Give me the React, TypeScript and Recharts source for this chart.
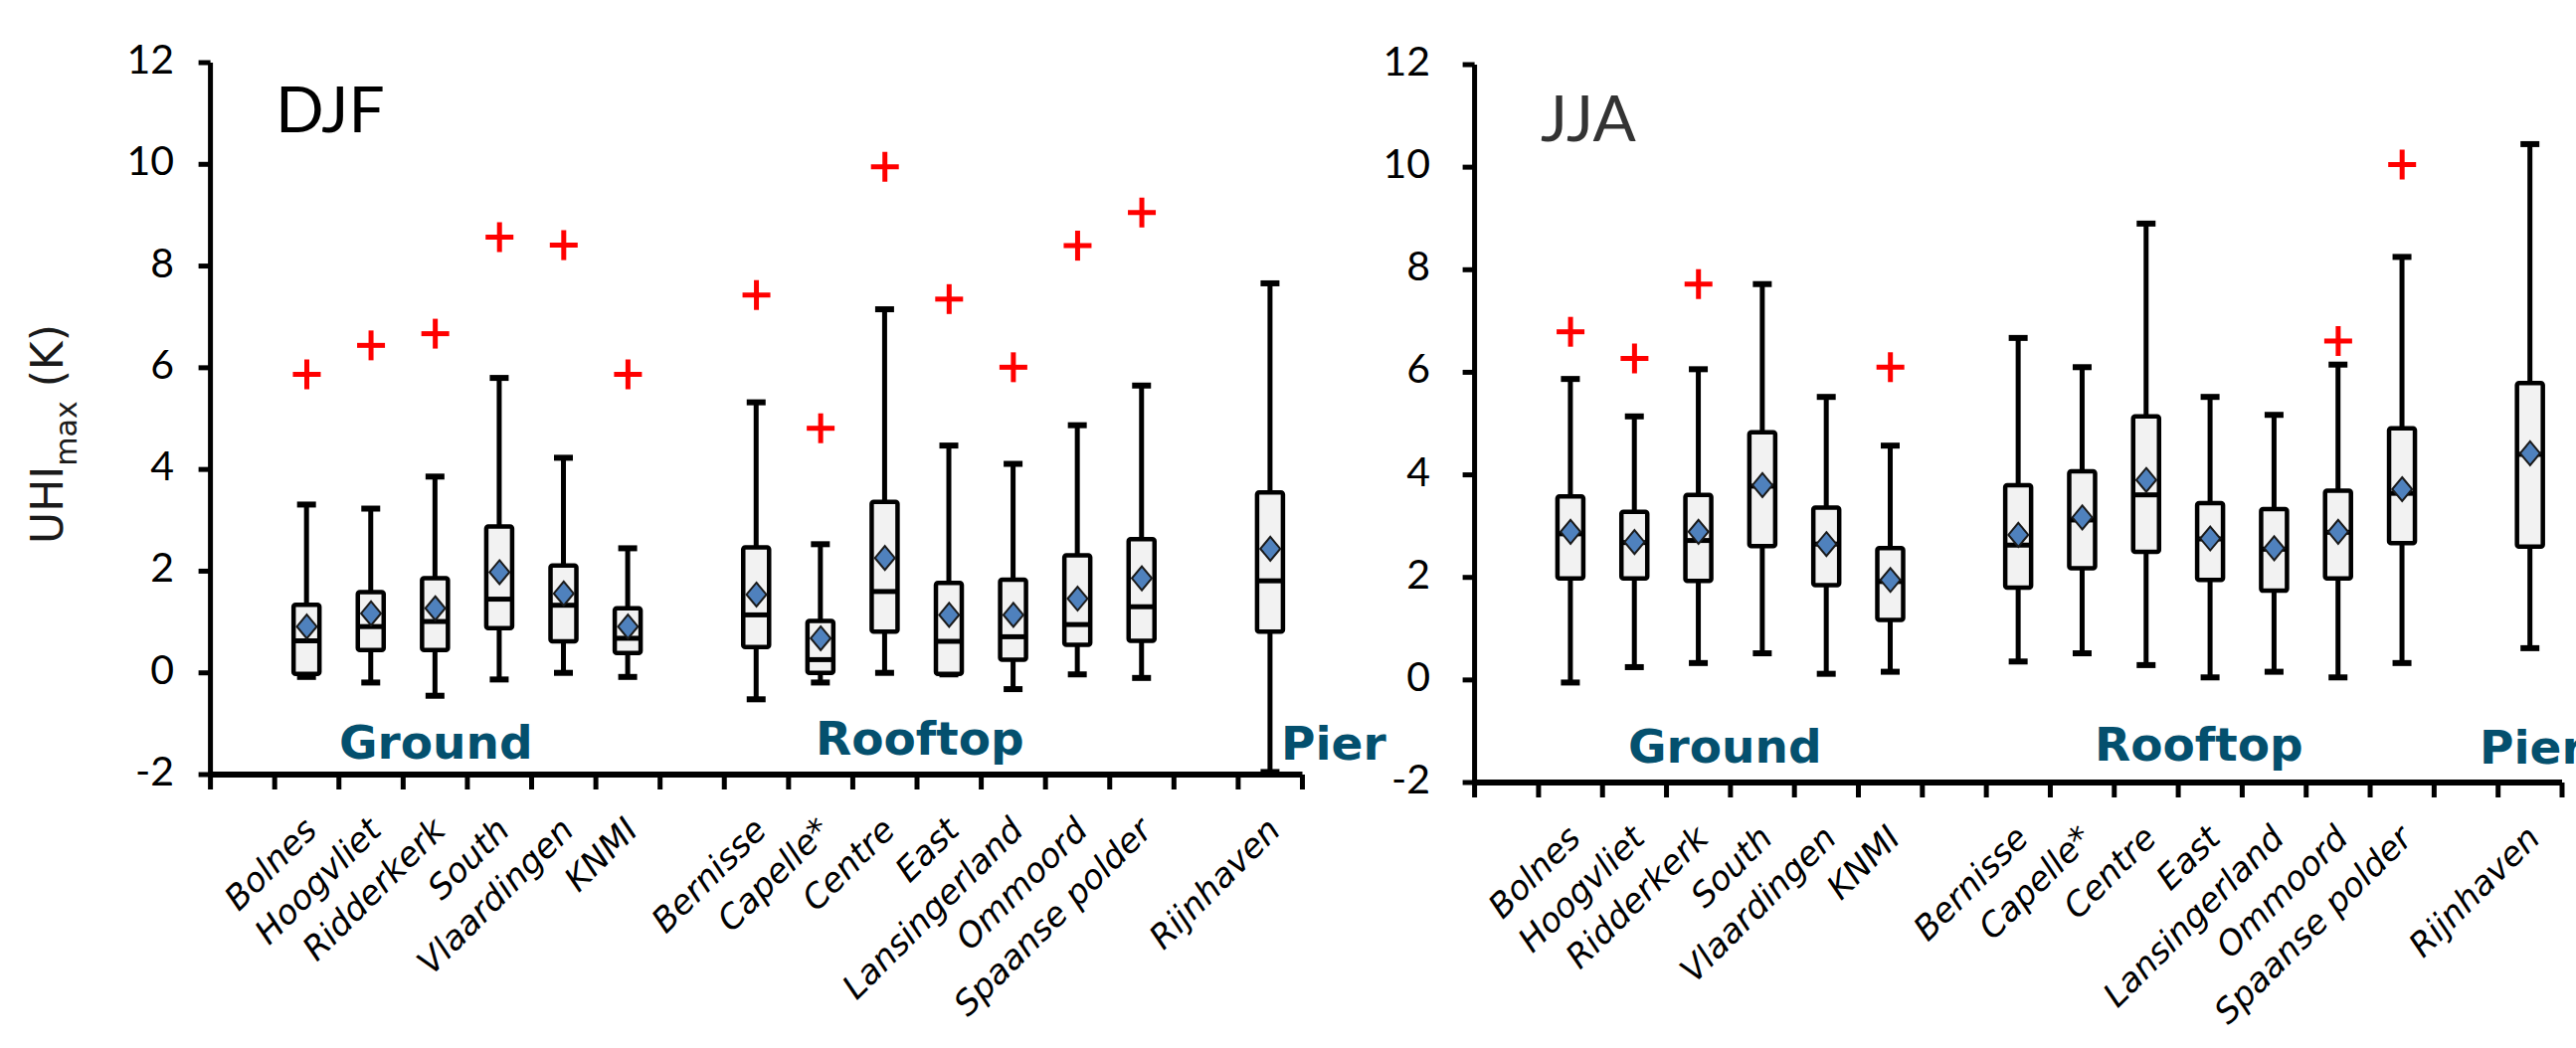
import React from 'react';
import { ComposedChart, Bar, Scatter, XAxis, YAxis } from 'recharts';

// station slots along the x axis, blank slots are the gaps between groups
const categories = [' ', 'Bolnes', 'Hoogvliet', 'Ridderkerk', 'South', 'Vlaardingen', 'KNMI', '  ', 'Bernisse', 'Capelle*', 'Centre', 'East', 'Lansingerland', 'Ommoord', 'Spaanse polder', '   ', 'Rijnhaven'];

const yTicks = [-2, 0, 2, 4, 6, 8, 10, 12];

// DJF (winter)
const djfMin = [null, -0.08, -0.19, -0.45, -0.13, 0.0, -0.08, null, -0.52, -0.19, 0.0, -0.03, -0.32, -0.03, -0.1, null, -1.95];
const djfQ1 = [null, -0.02, 0.45, 0.45, 0.88, 0.62, 0.39, null, 0.51, 0.0, 0.81, -0.02, 0.26, 0.55, 0.63, null, 0.81];
const djfMedian = [null, 0.63, 0.91, 1.01, 1.45, 1.33, 0.68, null, 1.14, 0.26, 1.6, 0.62, 0.71, 0.95, 1.3, null, 1.81];
const djfQ3 = [null, 1.34, 1.59, 1.86, 2.88, 2.11, 1.27, null, 2.47, 1.02, 3.36, 1.77, 1.83, 2.31, 2.63, null, 3.55];
const djfMax = [null, 3.31, 3.23, 3.86, 5.8, 4.23, 2.45, null, 5.32, 2.53, 7.15, 4.47, 4.11, 4.87, 5.65, null, 7.66];
const djfMean = [null, 0.91, 1.17, 1.27, 1.98, 1.56, 0.91, null, 1.54, 0.68, 2.26, 1.14, 1.14, 1.46, 1.86, null, 2.44];
const djfOutlier = [null, 5.87, 6.44, 6.67, 8.57, 8.41, 5.87, null, 7.43, 4.81, 9.95, 7.35, 6.01, 8.4, 9.05, null, null];

// JJA (summer)
const jjaMin = [null, -0.05, 0.25, 0.33, 0.52, 0.12, 0.16, null, 0.36, 0.52, 0.29, 0.05, 0.16, 0.05, 0.33, null, 0.62];
const jjaQ1 = [null, 1.98, 1.98, 1.93, 2.61, 1.85, 1.17, null, 1.8, 2.18, 2.5, 1.95, 1.74, 1.98, 2.67, null, 2.6];
const jjaMedian = [null, 2.85, 2.68, 2.72, 3.78, 2.65, 1.92, null, 2.63, 3.12, 3.61, 2.75, 2.55, 2.88, 3.64, null, 4.4];
const jjaQ3 = [null, 3.58, 3.28, 3.61, 4.83, 3.36, 2.57, null, 3.8, 4.07, 5.14, 3.45, 3.33, 3.69, 4.91, null, 5.79];
const jjaMax = [null, 5.87, 5.14, 6.06, 7.72, 5.52, 4.57, null, 6.67, 6.1, 8.9, 5.52, 5.17, 6.15, 8.25, null, 10.45];
const jjaMean = [null, 2.89, 2.69, 2.89, 3.8, 2.65, 1.95, null, 2.83, 3.17, 3.9, 2.76, 2.57, 2.89, 3.72, null, 4.42];
const jjaOutlier = [null, 6.79, 6.27, 7.72, null, null, 6.1, null, null, null, null, null, null, 6.61, 10.05, null, null];

const buildRows = (mn: any[], q1: any[], md: any[], q3: any[], mx: any[], mean: any[], out: any[]) =>
  categories.map((name, i) => ({
    name,
    min: mn[i],
    q1: q1[i],
    median: md[i],
    q3: q3[i],
    max: mx[i],
    mean: mean[i],
    outlier: out[i],
  }));

const djfRows = buildRows(djfMin, djfQ1, djfMedian, djfQ3, djfMax, djfMean, djfOutlier);
const jjaRows = buildRows(jjaMin, jjaQ1, jjaMedian, jjaQ3, jjaMax, jjaMean, jjaOutlier);

const LABEL_BLUE = '#04506e';

// whiskers + box + median, drawn inside the range bar [min, max]
const BoxShape = (props: any) => {
  const { x, y, width, height, payload } = props;
  if (!payload || payload.min == null || !isFinite(y)) return null;
  const top = Math.min(y, y + height);
  const bottom = Math.max(y, y + height);
  const span = payload.max - payload.min;
  const py = (v: number) => bottom - ((v - payload.min) / span) * (bottom - top);
  const cx = x + width / 2;
  return (
    <g>
      <line x1={cx} x2={cx} y1={py(payload.max)} y2={py(payload.min)} stroke="#000" strokeWidth={5} />
      <line x1={cx - 9.5} x2={cx + 9.5} y1={py(payload.max)} y2={py(payload.max)} stroke="#000" strokeWidth={6} />
      <line x1={cx - 9.5} x2={cx + 9.5} y1={py(payload.min)} y2={py(payload.min)} stroke="#000" strokeWidth={6} />
      <rect
        x={x}
        y={py(payload.q3)}
        width={width}
        height={py(payload.q1) - py(payload.q3)}
        fill="#f2f2f2"
        stroke="#000"
        strokeWidth={4.5}
        strokeLinejoin="round"
        rx={2}
      />
      <line x1={x} x2={x + width} y1={py(payload.median)} y2={py(payload.median)} stroke="#000" strokeWidth={5} />
    </g>
  );
};

const MeanShape = (props: any) => {
  const { cx, cy } = props;
  if (cx == null || cy == null || !isFinite(cy)) return null;
  return (
    <polygon
      points={`${cx},${cy - 12} ${cx + 10},${cy} ${cx},${cy + 12} ${cx - 10},${cy}`}
      fill="#4f81bd"
      stroke="#1a1a1a"
      strokeWidth={2}
    />
  );
};

const OutlierShape = (props: any) => {
  const { cx, cy } = props;
  if (cx == null || cy == null || !isFinite(cy)) return null;
  return (
    <g stroke="#ff0000" strokeWidth={5}>
      <line x1={cx - 14} x2={cx + 14} y1={cy} y2={cy} />
      <line x1={cx} x2={cx} y1={cy - 15} y2={cy + 15} />
    </g>
  );
};

// tick marks sit on the band edges, labels at the band centre
const CategoryTick = (props: any) => {
  const { x, y, payload, index, visibleTicksCount } = props;
  const half = payload.offset ?? 32;
  const last = index === visibleTicksCount - 1;
  return (
    <g>
      <line x1={x - half} x2={x - half} y1={y} y2={y + 15} stroke="#000" strokeWidth={5} />
      {last && <line x1={x + half} x2={x + half} y1={y} y2={y + 15} stroke="#000" strokeWidth={5} />}
      <g transform={`translate(${x + 12}, ${y + 58})`}>
        <text
          x={0}
          y={0}
          transform="rotate(-45)"
          textAnchor="end"
          fontFamily="DejaVu Sans"
          fontStyle="italic"
          fontSize={34}
          fill="#000"
        >
          {String(payload.value).trim()}
        </text>
      </g>
    </g>
  );
};

const ValueTick = (props: any) => {
  const { x, y, payload } = props;
  return (
    <text x={x} y={y + 11} textAnchor="end" fontFamily="Lato" fontSize={41} fill="#000">
      {payload.value}
    </text>
  );
};

function Panel({ rows, width, margin, yAxisWidth, tickMargin }: any) {
  return (
    <ComposedChart width={width} height={1054} data={rows} margin={margin}>
      <XAxis
        dataKey="name"
        type="category"
        interval={0}
        height={200}
        tickSize={0}
        tickMargin={0}
        tickLine={false}
        axisLine={{ stroke: '#000', strokeWidth: 6 }}
        tick={<CategoryTick />}
      />
      <YAxis
        type="number"
        domain={[-2, 12]}
        ticks={yTicks}
        allowDataOverflow
        width={yAxisWidth}
        tickSize={12}
        tickMargin={tickMargin}
        axisLine={{ stroke: '#000', strokeWidth: 5 }}
        tickLine={{ stroke: '#000', strokeWidth: 5 }}
        tick={<ValueTick />}
      />
      <Bar dataKey={(d: any) => (d.min == null ? null : [d.min, d.max])} barSize={26} shape={<BoxShape />} isAnimationActive={false} />
      <Scatter dataKey="mean" shape={<MeanShape />} isAnimationActive={false} />
      <Scatter dataKey="outlier" shape={<OutlierShape />} isAnimationActive={false} />
    </ComposedChart>
  );
}

export default function App() {
  const groupText = { fontFamily: 'DejaVu Sans', fontWeight: 700, fontSize: 47, fill: LABEL_BLUE };
  return (
    <div style={{ position: 'absolute', left: 0, top: 0, width: 2590, height: 1054, overflow: 'hidden', background: '#fff' }}>
      <div style={{ position: 'absolute', left: 0, top: 0 }}>
        <Panel
          rows={djfRows}
          width={1400}
          margin={{ top: 63, right: 90.5, bottom: 75, left: 61.6 }}
          yAxisWidth={150}
          tickMargin={24.6}
        />
      </div>
      <div style={{ position: 'absolute', left: 1340, top: 0 }}>
        <Panel
          rows={jjaRows}
          width={1250}
          margin={{ top: 65, right: 14, bottom: 67, left: 42.6 }}
          yAxisWidth={100}
          tickMargin={32.6}
        />
      </div>
      <svg width={2590} height={1054} style={{ position: 'absolute', left: 0, top: 0, pointerEvents: 'none' }}>
        <text transform="translate(63, 547) rotate(-90)" fontFamily="DejaVu Sans" fontSize={44} fill="#1a1a1a">
          UHI
          <tspan fontSize={30} dy={14}>max</tspan>
          <tspan dy={-14}> (K)</tspan>
        </text>
        <text x={277} y={133} fontFamily="Lato" fontSize={64} fill="#000">DJF</text>
        <text x={1549} y={142} fontFamily="Lato" fontSize={64} fill="#333">JJA</text>
        <text x={341} y={763} {...groupText}>Ground</text>
        <text x={820} y={759} {...groupText}>Rooftop</text>
        <text x={1288} y={764} {...groupText}>Pier</text>
        <text x={1637} y={767} {...groupText}>Ground</text>
        <text x={2106} y={765} {...groupText}>Rooftop</text>
        <text x={2493} y={768} {...groupText}>Pier</text>
      </svg>
    </div>
  );
}
